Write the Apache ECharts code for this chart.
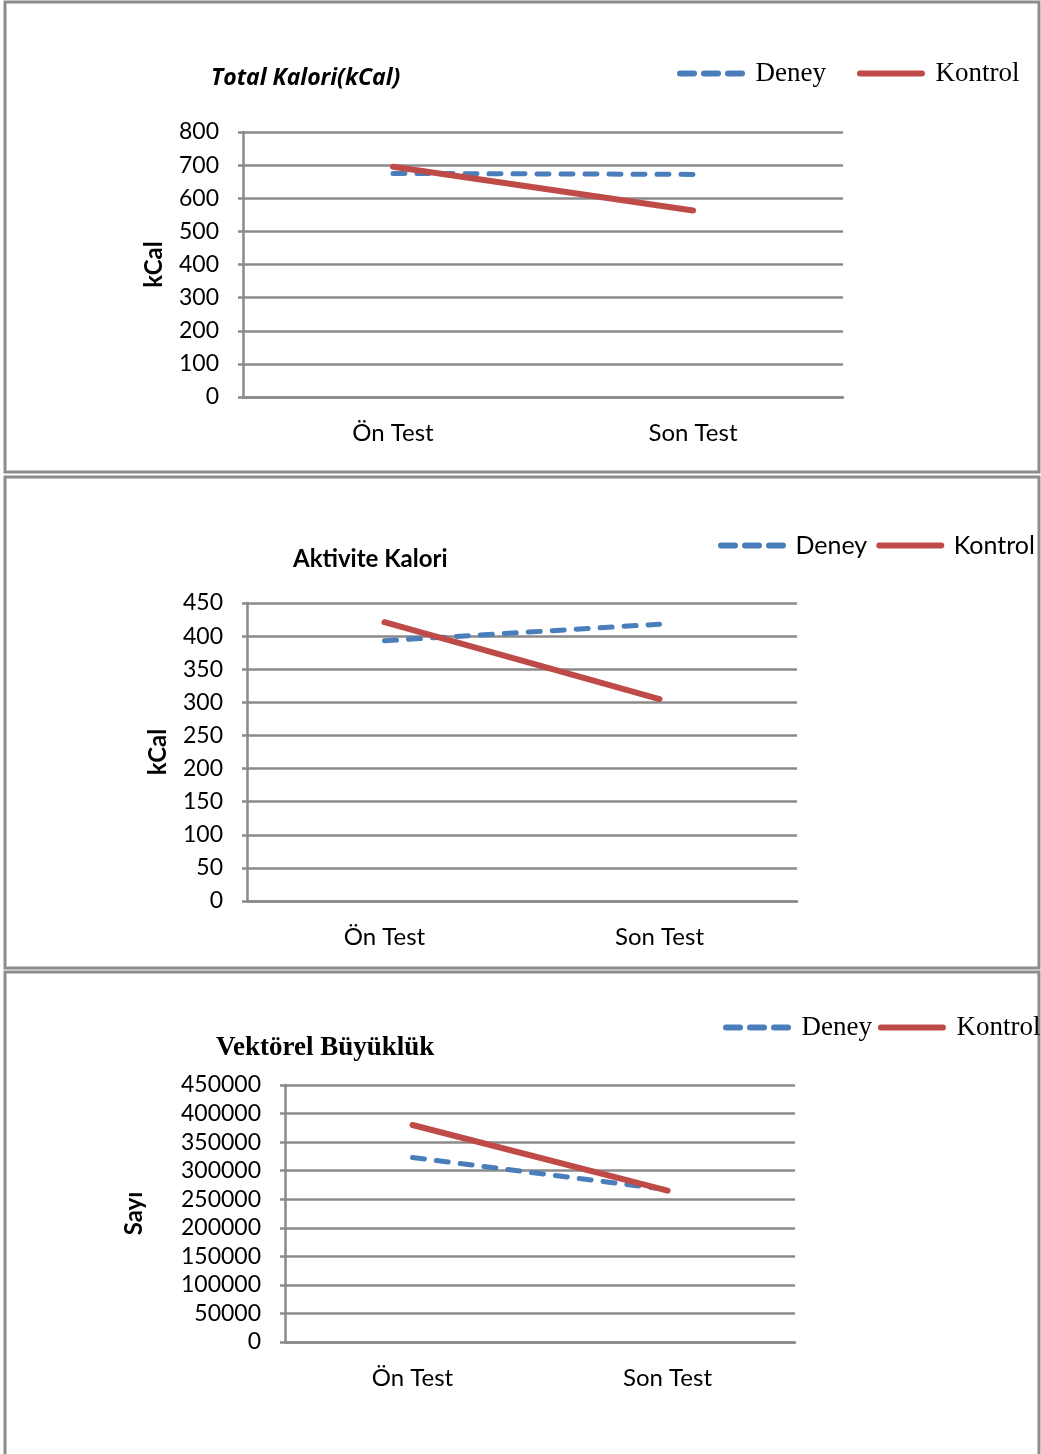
<!DOCTYPE html>
<html>
<head>
<meta charset="utf-8">
<script src="https://cdn.jsdelivr.net/npm/echarts@6/dist/echarts.min.js"></script>
<style>
html,body{margin:0;padding:0;background:#fff;}
#c{width:1041px;height:1454px;}
</style>
</head>
<body>
<div id="c"></div>
<script>
// ---- data ----
const categories = ['Ön Test', 'Son Test'];
const seriesNames = ['Deney', 'Kontrol'];

const deneyTotal = [675, 672];
const kontrolTotal = [695, 563];

const deneyAktivite = [393, 418];
const kontrolAktivite = [421, 305];

const deneyVektor = [323000, 267000];
const kontrolVektor = [380000, 265000];

const titles = ['Total Kalori(kCal)', 'Aktivite Kalori', 'Vektörel Büyüklük'];
const yNames = ['kCal', 'kCal', 'Sayı'];
const yMax = [800, 450, 450000];
const yStep = [100, 50, 50000];

// ---- styles ----
const BLUE = '#4a7ebb';
const RED = '#be4b48';
const GRID = '#8a8a8a';
const SANS = 'Lato, "Open Sans", sans-serif';
const SERIF = '"Liberation Serif", "DejaVu Serif", serif';

const grids = [
  {left: 243, top: 132, width: 600, height: 265},
  {left: 247, top: 603, width: 550, height: 298},
  {left: 285, top: 1085, width: 510, height: 257}
];
const nameGaps = [77, 77, 139];

const xAxes = grids.map((g, i) => ({
  type: 'category', gridIndex: i, data: categories, boundaryGap: true,
  axisLine: {lineStyle: {color: GRID, width: 2.5}},
  axisTick: {show: false},
  axisLabel: {color: '#000', fontFamily: SANS, fontSize: 24, margin: 24}
}));
const yAxes = grids.map((g, i) => ({
  type: 'value', gridIndex: i, min: 0, max: yMax[i], interval: yStep[i],
  name: yNames[i], nameLocation: 'middle', nameGap: nameGaps[i],
  nameTextStyle: {color: '#000', fontFamily: SANS, fontSize: 24, fontWeight: 'bold'},
  axisLine: {show: true, lineStyle: {color: GRID, width: 2.5}},
  axisTick: {show: true, length: 5, lineStyle: {color: GRID, width: 2.5}},
  splitLine: {show: true, lineStyle: {color: GRID, width: 2.5}},
  axisLabel: {color: '#000', fontFamily: SANS, fontSize: 23, margin: 24, formatter: v => String(v)}
}));

const dataSets = [
  [deneyTotal, kontrolTotal],
  [deneyAktivite, kontrolAktivite],
  [deneyVektor, kontrolVektor]
];
const series = [];
dataSets.forEach((pair, i) => {
  series.push({
    name: seriesNames[0], type: 'line', xAxisIndex: i, yAxisIndex: i, data: pair[0],
    symbol: 'none', silent: true, animation: false, z: 3,
    lineStyle: {color: BLUE, width: 5, type: [12, 12], cap: 'round'},
    itemStyle: {color: BLUE}
  });
  series.push({
    name: seriesNames[1], type: 'line', xAxisIndex: i, yAxisIndex: i, data: pair[1],
    symbol: 'none', silent: true, animation: false, z: 4,
    lineStyle: {color: RED, width: 6, cap: 'round'},
    itemStyle: {color: RED}
  });
});

const titleCfg = [
  {text: titles[0], left: 211, top: 67, textStyle: {fontFamily: '"Open Sans", Lato, sans-serif', fontSize: 23, fontWeight: 'bold', fontStyle: 'italic', color: '#000'}},
  {text: titles[1], left: 293, top: 547, textStyle: {fontFamily: SANS, fontSize: 24, fontWeight: 'bold', color: '#000'}},
  {text: titles[2], left: 216, top: 1035, textStyle: {fontFamily: SERIF, fontSize: 27, fontWeight: 'bold', color: '#000'}}
];
titleCfg.forEach(t => { t.padding = 0; });

const DASH_ICON = 'path://M3,0 L17,0 A3,3 0 0 1 17,6 L3,6 A3,3 0 0 1 3,0 Z M27,0 L41,0 A3,3 0 0 1 41,6 L27,6 A3,3 0 0 1 27,0 Z M51,0 L65,0 A3,3 0 0 1 65,6 L51,6 A3,3 0 0 1 51,0 Z';
const SOLID_ICON = 'path://M3,0 L65,0 A3,3 0 0 1 65,6 L3,6 A3,3 0 0 1 3,0 Z';

const legendCfg = [
  {left: 677, top: 60, itemGap: 31, font: SERIF, size: 27, tp: 5},
  {left: 718, top: 533, itemGap: 9, font: SANS, size: 25, tp: 4},
  {left: 723, top: 1014, itemGap: 6, font: SERIF, size: 27, tp: 5}
].map(l => ({
  data: [
    {name: seriesNames[0], icon: DASH_ICON, itemStyle: {color: BLUE}},
    {name: seriesNames[1], icon: SOLID_ICON, itemStyle: {color: RED}}
  ],
  left: l.left, top: l.top, orient: 'horizontal', padding: 0,
  itemWidth: 69, itemHeight: 6, itemGap: l.itemGap, selectedMode: false,
  textStyle: {fontFamily: l.font, fontSize: l.size, color: '#000', padding: [0, 0, 0, l.tp]}
}));

const panels = [
  {y: 2, h: 470},
  {y: 477, h: 491},
  {y: 972, h: 490}
];
const graphic = panels.map(p => ({
  type: 'rect', shape: {x: 5, y: p.y, width: 1034, height: p.h},
  style: {fill: 'none', stroke: '#8c8c8c', lineWidth: 3}, silent: true, z: 0
}));

const chart = echarts.init(document.getElementById('c'), null, {renderer: 'canvas'});
chart.setOption({
  backgroundColor: '#fff',
  animation: false,
  title: titleCfg,
  legend: legendCfg,
  grid: grids,
  xAxis: xAxes,
  yAxis: yAxes,
  series: series,
  graphic: graphic
});
</script>
</body>
</html>
